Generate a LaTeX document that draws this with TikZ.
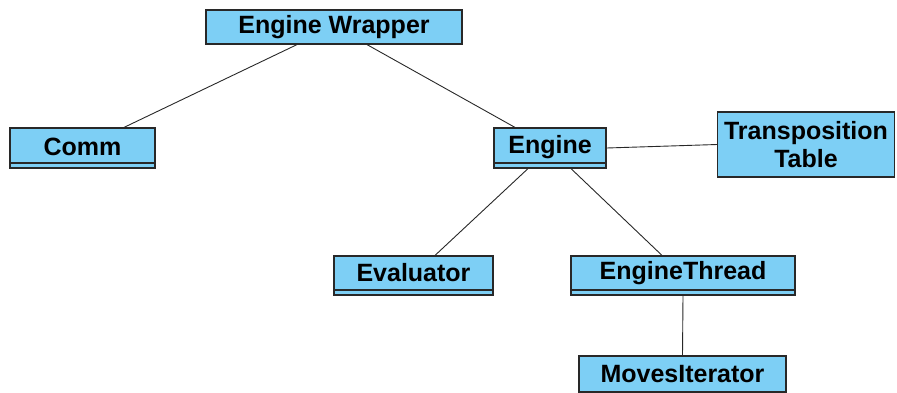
\documentclass[tikz,border=0pt]{standalone}
\usepackage{fontspec}
\setmainfont{Liberation Sans}
\definecolor{boxfill}{RGB}{125,207,245}
\definecolor{boxline}{RGB}{40,40,40}
\begin{document}
\begin{tikzpicture}[x=1pt,y=-1pt,
  box/.style={draw=boxline,line width=1.2pt,fill=boxfill,inner sep=0pt,
    font=\fontsize{25}{28}\selectfont\bfseries,align=center},
  lbl/.style={box,draw=none,fill=none},
  cls/.style={box,path picture={\draw[boxline,line width=1.2pt]
     ([yshift=5pt]path picture bounding box.south west) -- ([yshift=5pt]path picture bounding box.south east);}},
  conn/.style={draw=boxline,line width=0.9pt}]
\useasboundingbox (0,0) rectangle (897,392);
\node[box,minimum width=256pt,minimum height=34pt] (wrap) at (334,27) {Engine Wrapper};
\node[cls,minimum width=145pt,minimum height=40pt] (comm) at (82.5,148) {};
\node[lbl] (commtxt) at (82.5,147) {Comm};
\node[cls,minimum width=112pt,minimum height=40pt] (engine) at (550,148) {};
\node[lbl] (enginetxt) at (550,147.5) {Engine};
\node[box,minimum width=177pt,minimum height=65pt] (tt) at (806,144.5) {Transposition\\Table};
\node[cls,minimum width=159pt,minimum height=39pt] (eval) at (413.5,275.5) {};
\node[lbl] (evaltxt) at (413.5,273) {Evaluator};
\node[cls,minimum width=224pt,minimum height=39pt] (thread) at (683,275.5) {};
\node[lbl] (threadtxt) at (683,273) {EngineThread};
\node[box,minimum width=207pt,minimum height=36pt] (moves) at (682.5,374) {MovesIterator};
\path (wrap.south) ++(-37,0) coordinate (w1);
\path (wrap.south) ++(33,0) coordinate (w2);
\path (comm.north) ++(41.5,0) coordinate (c1);
\path (engine.north) ++(-35,0) coordinate (e1);
\path (engine.south) ++(-22,0) coordinate (e2);
\path (engine.south) ++(21,0) coordinate (e3);
\path (eval.north) ++(21.5,0) coordinate (v1);
\path (thread.north) ++(-21,0) coordinate (t1);
\draw[conn] (w1) -- (c1);
\draw[conn] (w2) -- (e1);
\draw[conn] (engine.east) -- (tt.west);
\draw[conn] (e2) -- (v1);
\draw[conn] (e3) -- (t1);
\draw[conn] (thread.south) -- (moves.north);
\end{tikzpicture}
\end{document}
